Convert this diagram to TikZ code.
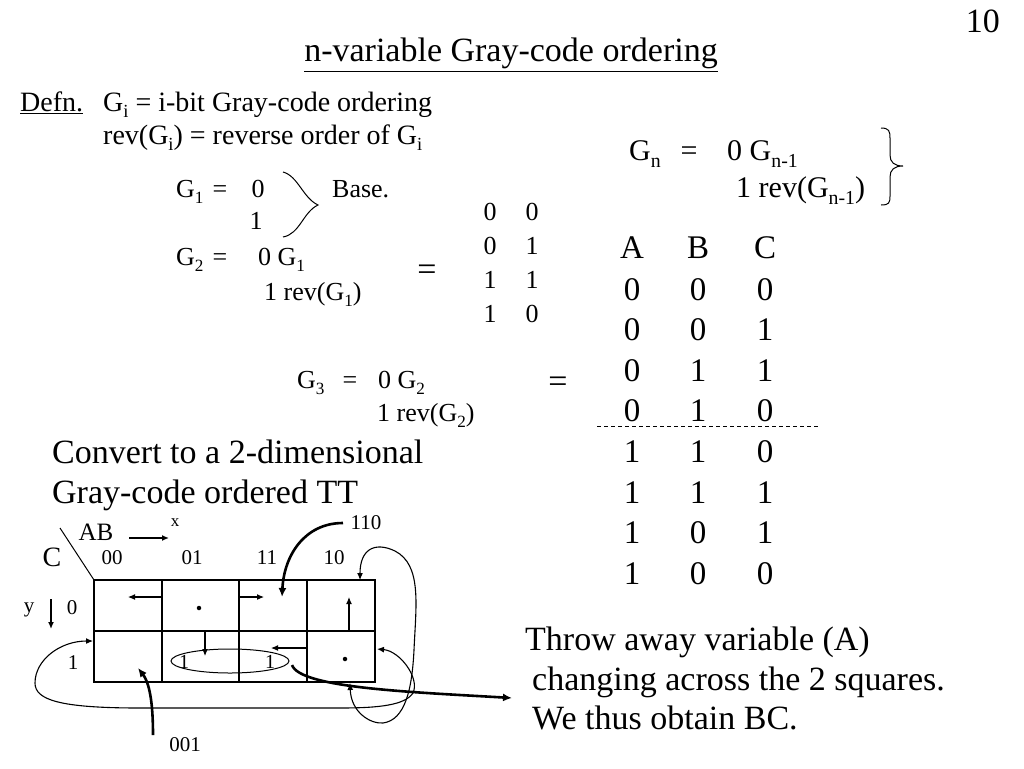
\documentclass[tikz,border=0pt]{standalone}
\usepackage{graphicx}
\usepackage{fontspec}
\setmainfont{Liberation Serif}
\usetikzlibrary{arrows.meta,shapes.geometric}
\newcommand\fsz[1]{\fontsize{#1}{#1}\selectfont}
\newcommand\sbs[1]{\raisebox{-0.24em}{\scalebox{0.66}{#1}}}
\begin{document}
\begin{tikzpicture}[x=1pt,y=-1pt,
  tw/.style={anchor=base west, inner sep=0pt},
  tc/.style={anchor=base, inner sep=0pt},
  ttl/.style={tc, font=\fsz{34}},
  defn/.style={tw, font=\fsz{28}},
  gblk/.style={tw, font=\fsz{26}},
  gblkc/.style={tc, font=\fsz{26}},
  big/.style={tw, font=\fsz{34}},
  tab/.style={tc, font=\fsz{33}},
  kl/.style={anchor=center, inner sep=0pt, font=\fsz{21}},
  grid/.style={line width=1.3pt},
  thin/.style={line width=1.1pt, -{Latex[length=7pt,width=6pt]}},
  both/.style={line width=1.1pt, {Latex[length=7pt,width=6pt]}-{Latex[length=7pt,width=6pt]}},
  thick/.style={line width=2.6pt, -{Latex[length=9pt,width=8pt]}},
  dotc/.style={circle, fill=black, inner sep=0pt, minimum size=4.5pt}
]
\useasboundingbox (0,0) rectangle (1024,768);
\fill[white] (0,0) rectangle (1024,768);

% title
\node[tc, font=\fsz{34}, anchor=base east] (pg) at (1000,33) {10};
\node[ttl] (title) at (511,62) {\underline{n-variable Gray-code ordering}};

% definition
\node[defn] (defn) at (20,111) {\underline{Defn.}};
\node[defn] (gi) at (103,111) {G\sbs{i} = i-bit Gray-code ordering};
\node[defn] (revgi) at (103,144) {rev(G\sbs{i}) = reverse order of G\sbs{i}};

% G1
\node[gblk] (g1) at (176,197) {G\sbs{1}};
\node[gblkc] (g1eq) at (220,197) {=};
\node[gblkc] (g1a) at (258,197) {0};
\node[gblkc] (g1b) at (256,229) {1};
\draw[line width=1pt] (283,172) .. controls (298,176) and (303,198) .. (318,205)
      .. controls (303,212) and (300,234) .. (283,237);
\node[gblk] (base) at (332,197) {Base.};

% G2
\node[gblk] (g2) at (176,265) {G\sbs{2}};
\node[gblkc] (g2eq) at (220,265) {=};
\node[gblk] (g2a) at (258,265) {0 G\sbs{1}};
\node[gblk] (g2b) at (264,300) {1 rev(G\sbs{1})};
\node[anchor=center, inner sep=0pt, font=\fsz{34}] (eq2) at (427,273) {=};
\foreach \r/\a/\b/\y in {1/0/0/220, 2/0/1/254, 3/1/1/288, 4/1/0/322}{
  \node[gblkc] (ta\r) at (490,\y) {\a};
  \node[gblkc] (tb\r) at (532,\y) {\b};
}

% G3
\node[gblk] (g3) at (297,388) {G\sbs{3}};
\node[gblkc] (g3eq) at (350,388) {=};
\node[gblk] (g3a) at (378,388) {0 G\sbs{2}};
\node[gblk] (g3b) at (377,421) {1 rev(G\sbs{2})};
\node[anchor=center, inner sep=0pt, font=\fsz{34}] (eq3) at (558,385) {=};

% Gn
\node[tw, font=\fsz{30}] (gn) at (629,160) {G\sbs{n}};
\node[tc, font=\fsz{30}] (gneq) at (689,160) {=};
\node[tw, font=\fsz{30}] (gna) at (727,160) {0 G\sbs{n-1}};
\node[tw, font=\fsz{30}] (gnb) at (736,197) {1 rev(G\sbs{n-1})};
\draw[line width=1pt] (881,128) .. controls (889,128) and (890,131) .. (890,138) -- (890,155)
   .. controls (890,162) and (894,166) .. (903,166)
   .. controls (894,166) and (890,170) .. (890,177) -- (890,196)
   .. controls (890,203) and (889,205) .. (881,205);

% truth table
\node[tab] (hA) at (632,258) {A};
\node[tab] (hB) at (698,258) {B};
\node[tab] (hC) at (765,258) {C};
\foreach \r/\a/\b/\c/\y in {1/0/0/0/300, 2/0/0/1/340, 3/0/1/1/381, 4/0/1/0/421,
                            5/1/1/0/462, 6/1/1/1/503, 7/1/0/1/543, 8/1/0/0/584}{
  \node[tab] (ra\r) at (632,\y) {\a};
  \node[tab] (rb\r) at (698,\y) {\b};
  \node[tab] (rc\r) at (765,\y) {\c};
}
\draw[line width=0.9pt, dash pattern=on 4pt off 3pt] (597,426) -- (818,426);

% convert text
\node[big] (conv1) at (52,463) {Convert to a 2-dimensional};
\node[big] (conv2) at (52,503) {Gray-code ordered TT};

% throw away text
\node[big] (th1) at (525,650) {Throw away variable (A)};
\node[big] (th2) at (532,690) {changing across the 2 squares.};
\node[big] (th3) at (532,729) {We thus obtain BC.};

% K-map
\draw[grid] (94,580) rectangle (375,682);
\draw[grid] (94,631) -- (375,631);
\draw[grid] (162,580) -- (162,682);
\draw[grid] (239,580) -- (239,682);
\draw[grid] (307,580) -- (307,682);
\draw[line width=1pt] (60,528) -- (94,580);
\node[kl, font=\fsz{25}] (ab) at (96,532) {AB};
\node[kl, font=\fsz{28}] (cc) at (52,557) {C};
\node[kl, font=\fsz{17}] (xx) at (175,523) {x};
\coordinate (xs) at (129,538);
\coordinate (xe) at (169,538);
\draw[line width=2.6pt, -{Latex[length=7pt,width=6pt]}] (xs) -- (xe);
\node[kl] (c00) at (112,558) {00};
\node[kl] (c01) at (192,558) {01};
\node[kl] (c11) at (267,558) {11};
\node[kl] (c10) at (334,558) {10};
\node[kl] (yy) at (29,610) {y};
\coordinate (ys) at (51,599);
\coordinate (ye) at (51,629);
\draw[line width=2.6pt, -{Latex[length=7pt,width=6pt]}] (ys) -- (ye);
\node[kl] (r0) at (72,608) {0};
\node[kl] (r1) at (73,663) {1};

% cell contents
\draw[thin] (162,597) -- (128,597);
\draw[thin] (239,597) -- (264,597);
\draw[thin] (349,631) -- (349,597);
\draw[thin] (205,631) -- (205,656);
\draw[thin] (307,648) -- (271,648);
\node[dotc] (d1) at (199,608) {};
\node[dotc] (d2) at (345,659) {};
\node[kl, font=\fsz{20}] (one1) at (184,662) {1};
\node[kl, font=\fsz{20}] (one2) at (270,662) {1};
\node[draw, ellipse, line width=1pt, minimum width=118pt, minimum height=24pt, inner sep=0pt] (ell) at (230,661) {};

% labels with thick arrows
\node[kl] (l110) at (366,523) {110};
\node[kl] (l001) at (185,745) {001};
\draw[thick] (343,523) .. controls (305,523) and (284,555) .. (282,597);
\draw[thick] (153,735) .. controls (153,710) and (151,685) .. (138,668);
\draw[thick] (292,665) .. controls (300,688) and (410,692) .. (512,698);

% wrap-around arrows
\draw[both] (350,683) .. controls (351,712) and (370,724) .. (383,723)
   .. controls (405,720) and (412,690) .. (414,650)
   .. controls (416,605) and (422,565) .. (395,551)
   .. controls (374,541) and (360,550) .. (360,580);
\draw[both] (377,649) .. controls (400,651) and (420,678) .. (413,693)
   .. controls (405,705) and (380,708) .. (340,708) -- (140,708)
   .. controls (60,708) and (35,700) .. (35,683)
   .. controls (35,660) and (60,641) .. (93,641);
\end{tikzpicture}
\end{document}
